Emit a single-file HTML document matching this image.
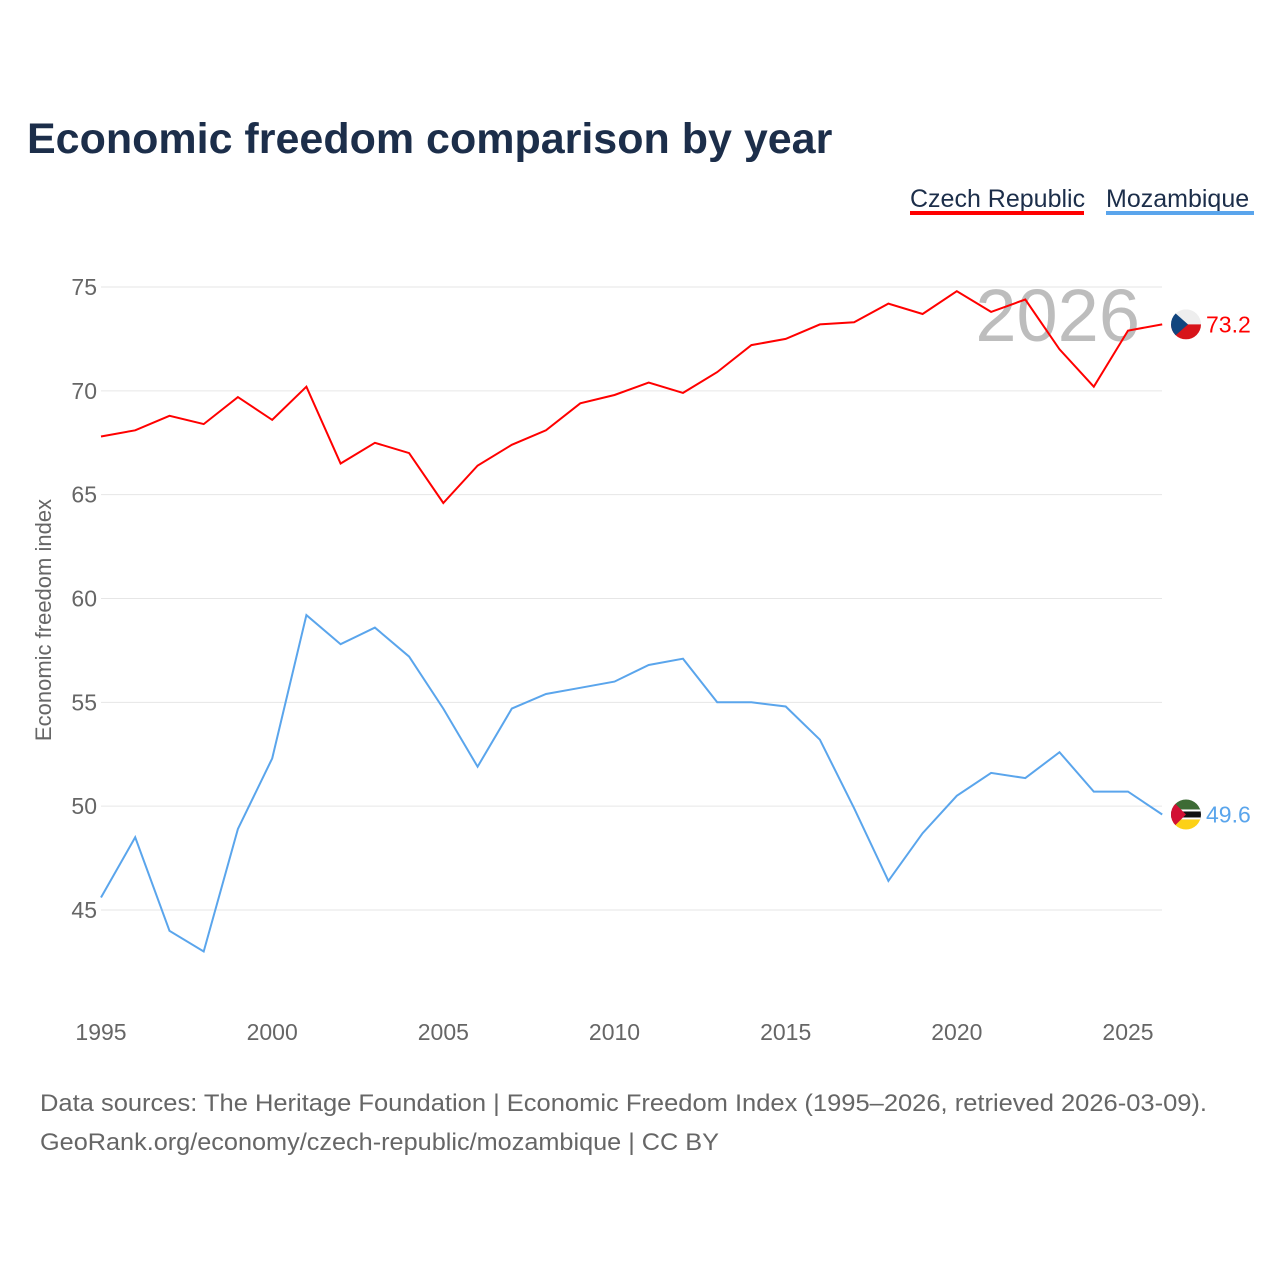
<!DOCTYPE html>
<html><head><meta charset="utf-8"><style>
body{margin:0;background:#fff;font-family:"Liberation Sans",sans-serif;}
</style></head><body>
<svg width="1280" height="1280" xmlns="http://www.w3.org/2000/svg" id="chart">
<rect width="1280" height="1280" fill="#fff"/>
<text x="27" y="153" font-size="43" font-weight="bold" fill="#1c2e4a">Economic freedom comparison by year</text>
<g>
<text x="910" y="207" font-size="25" fill="#1c2e4a">Czech Republic</text>
<rect x="910" y="211" width="174" height="4" fill="#ff0000"/>
<text x="1106" y="207" font-size="25" fill="#1c2e4a">Mozambique</text>
<rect x="1106" y="211" width="148" height="4" fill="#5aa5ec"/>
</g>
<text x="1140" y="341" font-size="74" fill="#bdbdbd" text-anchor="end">2026</text>
<g id="grid"></g>
<g id="xticks"></g>
<text transform="translate(51,620) rotate(-90)" font-size="22" fill="#666" text-anchor="middle">Economic freedom index</text>
<g id="series"></g>
<text x="40" y="1111" font-size="24" fill="#666" textLength="1167" lengthAdjust="spacingAndGlyphs">Data sources: The Heritage Foundation | Economic Freedom Index (1995–2026, retrieved 2026-03-09).</text>
<text x="40" y="1150" font-size="24" fill="#666" textLength="679" lengthAdjust="spacingAndGlyphs">GeoRank.org/economy/czech-republic/mozambique | CC BY</text>
</svg>
<script>
const years=[1995,1996,1997,1998,1999,2000,2001,2002,2003,2004,2005,2006,2007,2008,2009,2010,2011,2012,2013,2014,2015,2016,2017,2018,2019,2020,2021,2022,2023,2024,2025,2026];
const czech=[67.8,68.1,68.8,68.4,69.7,68.6,70.2,66.5,67.5,67.0,64.6,66.4,67.4,68.1,69.4,69.8,70.4,69.9,70.9,72.2,72.5,73.2,73.3,74.2,73.7,74.8,73.8,74.4,72.0,70.2,72.9,73.2];
const mozambique=[45.6,48.5,44.0,43.0,48.9,52.3,59.2,57.8,58.6,57.2,54.7,51.9,54.7,55.4,55.7,56.0,56.8,57.1,55.0,55.0,54.8,53.2,49.9,46.4,48.7,50.5,51.6,51.35,52.6,50.7,50.7,49.6];
const yTicks=[45,50,55,60,65,70,75];
const xTicks=[1995,2000,2005,2010,2015,2020,2025];
const NS="http://www.w3.org/2000/svg";
const x=v=>101+(v-1995)*(1128-101)/30;
const y=v=>287+(75-v)*(910-287)/30;
function mk(t,a,p){const e=document.createElementNS(NS,t);for(const k in a)e.setAttribute(k,a[k]);p.appendChild(e);return e;}
const grid=document.getElementById('grid');
yTicks.forEach(t=>{
  const l=mk('line',{x1:101,x2:1162,y1:y(t),y2:y(t),stroke:'#e6e6e6','stroke-width':1},grid);
  
  
  const tx=mk('text',{x:97,y:y(t)+8,'font-size':23,fill:'#666','text-anchor':'end'},grid);
  tx.textContent=t;
  
  
});
const xt=document.getElementById('xticks');
xTicks.forEach(t=>{
  const tx=mk('text',{x:x(t),y:1040,'font-size':23,fill:'#666','text-anchor':'middle'},xt);
  tx.textContent=t;
  
  
});
const sg=document.getElementById('series');
function line(vals,color,name){
  const d=vals.map((v,i)=>(i?'L':'M')+x(years[i]).toFixed(1)+','+y(v).toFixed(1)).join('');
  const p=mk('path',{d:d,fill:'none',stroke:color,'stroke-width':2},sg);
  
  
  const last=vals[vals.length-1];
  const t=mk('text',{x:1206,y:y(last)+8,'font-size':23,fill:color},sg);
  t.textContent=last.toFixed(1);
  
  
  return y(last);
}
const cy=line(czech,'#ff0000','czech-republic');
const my=line(mozambique,'#5aa5ec','mozambique');
let g=mk('g',{},sg);


let cp=mk('clipPath',{id:'cc'},g);mk('circle',{cx:1186,cy:cy,r:15},cp);
let gg=mk('g',{'clip-path':'url(#cc)'},g);
mk('rect',{x:1171,y:cy-15,width:30,height:15,fill:'#eeeeee'},gg);
mk('rect',{x:1171,y:cy,width:30,height:15,fill:'#d7141a'},gg);
mk('polygon',{points:`1171,${cy-15} 1188,${cy} 1171,${cy+15}`,fill:'#11457e'},gg);
g=mk('g',{},sg);


cp=mk('clipPath',{id:'mc'},g);mk('circle',{cx:1186,cy:my,r:15},cp);
gg=mk('g',{'clip-path':'url(#mc)'},g);
mk('rect',{x:1171,y:my-15,width:30,height:10,fill:'#3d6b35'},gg);
mk('rect',{x:1171,y:my-5,width:30,height:10,fill:'#111'},gg);
mk('rect',{x:1171,y:my-5,width:30,height:2,fill:'#fff'},gg);
mk('rect',{x:1171,y:my+3,width:30,height:2,fill:'#fff'},gg);
mk('rect',{x:1171,y:my+5,width:30,height:10,fill:'#fcd116'},gg);
mk('polygon',{points:`1171,${my-15} 1186,${my} 1171,${my+15}`,fill:'#d21034'},gg);
</script>
</body></html>
